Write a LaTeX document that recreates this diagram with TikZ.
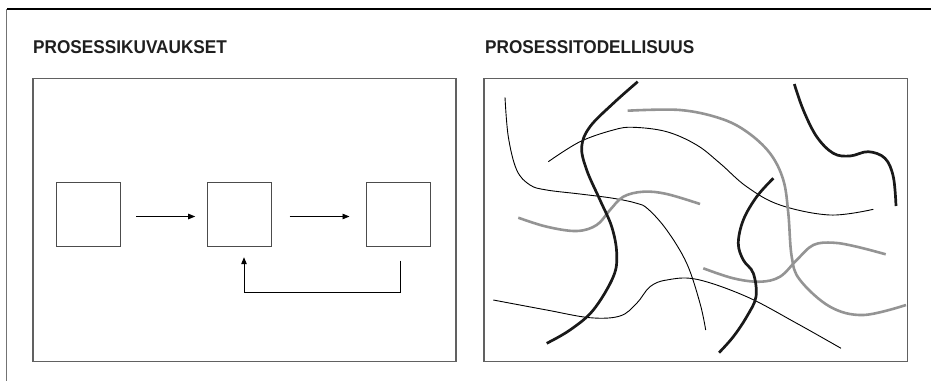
\documentclass[tikz,border=0pt]{standalone}
\usepackage{fontspec}
\setmainfont{Liberation Sans}
\usetikzlibrary{arrows.meta}
\newcommand{\ttlbox}[1]{\scalebox{0.93}[1]{#1}}
\begin{document}
\begin{tikzpicture}[x=1pt,y=-1pt,
  panel/.style={draw=black!62,line width=1.2pt},
  sq/.style={draw=black!70,line width=1pt,minimum width=64pt,minimum height=64pt,inner sep=0pt},
  arr/.style={draw=black,line width=0.9pt,-{Triangle[length=7pt,width=5.5pt]}},
  title/.style={font=\bfseries\fontsize{18.5}{21}\selectfont,inner sep=0pt,anchor=base west,text=black!88},
  thin/.style={draw=black,line width=0.9pt},
  thick/.style={draw=black!90,line width=2.7pt},
  grey/.style={draw=black!42,line width=2.6pt}]
\useasboundingbox (0,0) rectangle (931,381);
% frame
\draw[black,line width=1.1pt] (931,9) -- (6.5,9);
\draw[black!55,line width=1.1pt] (6.5,9) -- (6.5,381);
% titles
\node[title] (t1) at (33,53) {\ttlbox{PROSESSIKUVAUKSET}};
\node[title] (t2) at (485,53) {\ttlbox{PROSESSITODELLISUUS}};
% panels
\node[panel,minimum width=423pt,minimum height=283.5pt,inner sep=0pt] (p1) at (244.5,220) {};
\node[panel,minimum width=423.5pt,minimum height=283.5pt,inner sep=0pt] (p2) at (695.8,220) {};
% left diagram
\node[sq] (s1) at (88,214.5) {};
\node[sq] (s2) at (239.7,214.5) {};
\node[sq] (s3) at (398.7,214.5) {};
\draw[arr] ([xshift=15.7pt,yshift=-2pt]s1.east) -- ([xshift=-12pt,yshift=-2pt]s2.west);
\draw[arr] ([xshift=17.3pt,yshift=-2pt]s2.east) -- ([xshift=-16.7pt,yshift=-2pt]s3.west);
\draw[arr] ([xshift=1.3pt,yshift=-13.5pt]s3.south) -- ([xshift=1.3pt,yshift=-45.8pt]s3.south)
  -| ([xshift=4.3pt,yshift=-10.2pt]s2.south);
% right diagram
\draw[thin] plot[smooth,tension=0.6] coordinates {(505,97.3) (508.3,136.7) (516.7,170) (530,185) (546.7,190) (580,194) (613.3,198.3) (636.7,203.3) (648,209) (666.7,230) (686.7,263.3) (700,303.3) (705.7,330)};
\draw[thin] plot[smooth,tension=0.6] coordinates {(548.3,161.7) (580,141.7) (613.3,130) (633.3,127.3) (666.7,131.7) (696.7,145) (720,163.3) (746.7,186.7) (780,205) (830,215) (873.3,209.3)};
\draw[thin] plot[smooth,tension=0.6] coordinates {(493.3,300) (546.7,310) (590,317.7) (620,316) (636.7,303.3) (650,286.7) (666.7,280) (696.7,279.3) (746.7,296.7) (796.7,323.3) (841,348.3)};
\draw[grey] plot[smooth,tension=0.6] coordinates {(627.7,110.7) (680,110) (720,118.3) (746.7,131.7) (770,153.3) (783.3,180) (788.3,213.3) (791.7,256.7) (800,280) (830,306.7) (863.3,315) (906,305)};
\draw[grey] plot[smooth,tension=0.6] coordinates {(518.3,217.7) (546.7,226.7) (576.7,231) (596.7,225) (610,210) (623.3,196.7) (643.3,191.7) (666.7,194) (700,204)};
\draw[grey] plot[smooth,tension=0.6] coordinates {(703.3,268.3) (733.3,278.3) (760,281.7) (780,276.7) (796.7,260) (813.3,245) (833.3,242.7) (856.7,246.7) (885.7,254.3)};
\draw[thick] plot[smooth,tension=0.6] coordinates {(637.7,81.7) (613.3,103.3) (590,126.7) (581.7,146.7) (586.7,170) (600,200) (611.7,226.7) (616.7,253.3) (613.3,276.7) (593.3,310) (570,330) (546.7,343.3)};
\draw[thick] plot[smooth,tension=0.6] coordinates {(773.3,178.3) (756.7,196.7) (743.3,220) (738.3,243.3) (743.3,260) (753.3,273.3) (756,296.7) (746.7,316.7) (733.3,336.7) (719,352.7)};
\draw[thick] plot[smooth,tension=0.6] coordinates {(794.3,84) (803.3,110) (816.7,136.7) (833.3,153.3) (850,156) (868.3,151.7) (885,158.3) (893.3,176.7) (896,206)};
\end{tikzpicture}
\end{document}
